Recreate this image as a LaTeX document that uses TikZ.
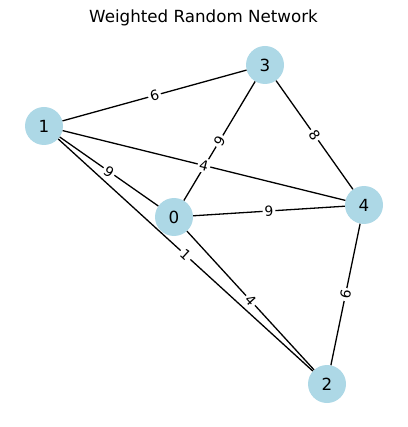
\documentclass[tikz,border=0pt]{standalone}
\usepackage{fontspec}
\setmainfont{DejaVu Sans}
\definecolor{nodeblue}{RGB}{173,216,230}
\begin{document}
\begin{tikzpicture}[x=1pt,y=-1pt,
  vtx/.style={circle,fill=nodeblue,minimum size=38pt,inner sep=0pt,font=\fontsize{16.7}{19}\selectfont},
  edge/.style={draw=black,line width=1.3pt},
  wlabel/.style={midway,sloped,fill=white,inner sep=2pt,rounded corners=2pt,font=\fontsize{13.9}{16}\selectfont}]
\useasboundingbox (0,0) rectangle (407,427);
\node (title) at (203.5,18) {\fontsize{16.7}{19}\selectfont Weighted Random Network};
\node[vtx] (n0) at (174,217) {0};
\node[vtx] (n1) at (44,126) {1};
\node[vtx] (n2) at (327,384) {2};
\node[vtx] (n3) at (265,65) {3};
\node[vtx] (n4) at (364,205) {4};
\draw[edge] (n1) -- (n3);
\draw[edge] (n3) -- (n0);
\draw[edge] (n3) -- (n4);
\draw[edge] (n1) -- (n4);
\draw[edge] (n1) -- (n0);
\draw[edge] (n1) -- (n2);
\draw[edge] (n0) -- (n4);
\draw[edge] (n0) -- (n2);
\draw[edge] (n4) -- (n2);
\path (n1) -- (n3) node[wlabel] (l13) {6};
\path (n3) -- (n0) node[wlabel] (l30) {9};
\path (n3) -- (n4) node[wlabel] (l34) {8};
\path (n1) -- (n4) node[wlabel] (l14) {4};
\path (n1) -- (n0) node[wlabel] (l10) {9};
\path (n1) -- (n2) node[wlabel] (l12) {1};
\path (n0) -- (n4) node[wlabel] (l04) {9};
\path (n0) -- (n2) node[wlabel] (l02) {4};
\path (n4) -- (n2) node[wlabel] (l42) {6};
\end{tikzpicture}
\end{document}
